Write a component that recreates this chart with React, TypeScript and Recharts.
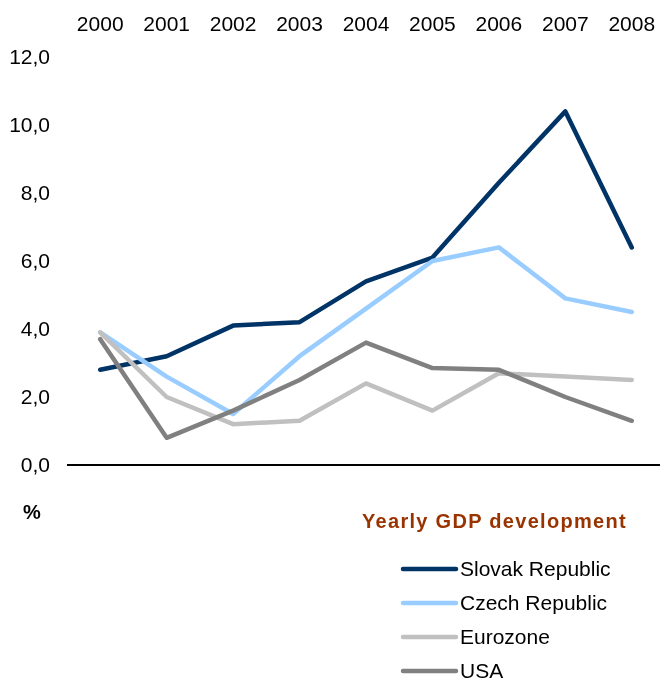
import React from 'react';
import { LineChart, Line, XAxis, YAxis, ReferenceLine } from 'recharts';

const years = ['2000', '2001', '2002', '2003', '2004', '2005', '2006', '2007', '2008'];
const slovak = [2.8, 3.2, 4.1, 4.2, 5.4, 6.1, 8.3, 10.4, 6.4];
const czech = [3.9, 2.6, 1.5, 3.2, 4.6, 6.0, 6.4, 4.9, 4.5];
const eurozone = [3.9, 2.0, 1.2, 1.3, 2.4, 1.6, 2.7, 2.6, 2.5];
const usa = [3.7, 0.8, 1.6, 2.5, 3.6, 2.85, 2.8, 2.0, 1.3];
const yTicks = [0, 2, 4, 6, 8, 10, 12];

const seriesNames = ['Slovak Republic', 'Czech Republic', 'Eurozone', 'USA'];
const seriesKeys = ['slovak', 'czech', 'eurozone', 'usa'];
const seriesColors = ['#003366', '#99CCFF', '#C0C0C0', '#808080'];

const data = years.map((y, i) => ({
  year: y,
  slovak: slovak[i],
  czech: czech[i],
  eurozone: eurozone[i],
  usa: usa[i],
}));

const FONT = '"Liberation Sans", Arial, sans-serif';

export default function App() {
  return (
    <div style={{ position: 'fixed', left: 8, top: 8, width: 652, height: 671, overflow: 'hidden', fontFamily: FONT }}>
      <LineChart width={660} height={671} data={data} margin={{ top: 0, right: 3, left: 0, bottom: 214 }}>
        <XAxis
          dataKey="year"
          orientation="top"
          scale="band"
          height={49}
          axisLine={false}
          tickLine={false}
          tickMargin={20}
          interval={0}
          tick={{ fontSize: 21, fill: '#000', fontFamily: FONT }}
        />
        <YAxis
          domain={[0, 12]}
          ticks={yTicks}
          width={59}
          axisLine={false}
          tickLine={false}
          tickMargin={11}
          interval={0}
          tickFormatter={(v: number) => v.toFixed(1).replace('.', ',')}
          tick={{ fontSize: 21, fill: '#000', fontFamily: FONT }}
        />
        <ReferenceLine y={0} stroke="#000" strokeWidth={2} />
        {seriesKeys.map((k, i) => (
          <Line
            key={k}
            dataKey={k}
            stroke={seriesColors[i]}
            strokeWidth={4.5}
            strokeLinecap="round"
            strokeLinejoin="round"
            dot={false}
            activeDot={false}
            isAnimationActive={false}
            type="linear"
          />
        ))}
      </LineChart>
      <svg width={652} height={671} style={{ position: 'absolute', left: 0, top: 0, pointerEvents: 'none' }}>
        <text x={15} y={511} fontSize={20} fontWeight="bold" fill="#000" fontFamily={FONT}>%</text>
        <text x={354} y={520} fontSize={20} fontWeight="bold" fill="#993300" fontFamily={FONT} letterSpacing={1.3}>
          Yearly GDP development
        </text>
        {seriesNames.map((n, i) => (
          <g key={n}>
            <line x1={395} x2={448} y1={561 + i * 34} y2={561 + i * 34} stroke={seriesColors[i]} strokeWidth={4.5} strokeLinecap="round" />
            <text x={452} y={568 + i * 34} fontSize={21} fill="#000" fontFamily={FONT}>{n}</text>
          </g>
        ))}
      </svg>
    </div>
  );
}
